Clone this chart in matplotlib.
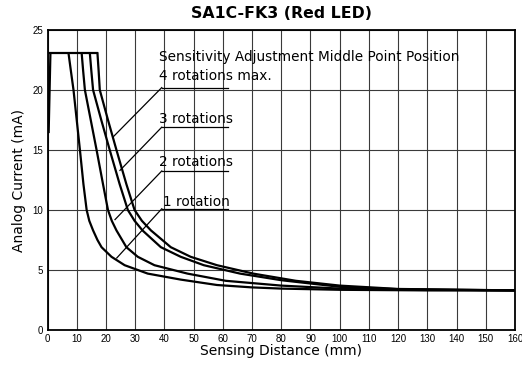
# Sensing distance vs analog current, SA1C-FK3 (Red LED)

import numpy as np
import matplotlib as mpl
mpl.use('Agg')
import matplotlib.pyplot as plt

plt.rcParams['font.family'] = ['DejaVu Sans']

# plateau (saturated output) and the short rise at the left
plateau_x = [1.0, 17.1]
plateau_y = [23.05, 23.05]
rise_x = [0.4, 1.0]
rise_y = [16.5, 23.05]

# curves, (distance mm, current mA)
rot1_x = [7.2, 8.0, 8.9, 10.0, 11.1, 12.3, 13.4, 14.3, 15.6, 17.1, 18.5, 21.9, 26.4, 34.3, 45.6, 58.0, 70.0, 80.0, 100.0, 130.0, 160.0]
rot1_y = [23.05, 21.6, 20.0, 17.5, 15.0, 12.15, 10.0, 9.1, 8.3, 7.5, 6.9, 6.1, 5.4, 4.7, 4.2, 3.75, 3.55, 3.45, 3.35, 3.3, 3.3]

rot2_x = [11.7, 12.2, 12.8, 14.8, 16.8, 19.0, 20.7, 22.0, 23.6, 27.0, 30.9, 36.6, 47.9, 61.0, 80.0, 100.0, 120.0, 160.0]
rot2_y = [23.05, 21.6, 20.0, 17.5, 15.0, 12.15, 10.0, 9.1, 8.3, 6.9, 6.1, 5.4, 4.7, 4.1, 3.7, 3.45, 3.35, 3.3]

rot3_x = [14.5, 15.0, 15.6, 18.4, 21.3, 24.7, 27.5, 29.8, 32.5, 38.8, 45.6, 53.5, 65.9, 80.0, 100.0, 120.0, 160.0]
rot3_y = [23.05, 21.6, 20.0, 17.5, 15.0, 12.15, 10.0, 9.1, 8.3, 6.9, 6.1, 5.4, 4.7, 4.15, 3.6, 3.4, 3.3]

rot4_x = [17.1, 17.5, 17.9, 20.7, 23.6, 27.0, 29.8, 32.3, 35.4, 42.2, 49.0, 58.0, 70.4, 85.0, 100.0, 120.0, 160.0]
rot4_y = [23.05, 21.6, 20.0, 17.5, 15.0, 12.15, 10.0, 9.1, 8.3, 6.9, 6.1, 5.4, 4.7, 4.1, 3.7, 3.42, 3.3]

# labels: text, text y, underline y, leader end (x, y)
labels = ["4 rotations max.", "3 rotations", "2 rotations", "1 rotation"]
label_y = [21.2, 17.6, 14.0, 10.7]
line_y = [20.2, 16.9, 13.25, 10.1]
lead_x = [22.5, 24.8, 23.1, 23.7]
lead_y = [16.1, 13.3, 9.2, 6.0]

xticks = np.arange(0, 170, 10)
yticks = np.arange(0, 30, 5)

fig = plt.figure(figsize=(5.22, 3.71), dpi=100)
ax = fig.add_axes([47.5/522, 1-330/371, (515-47.5)/522, 300/371])

ax.set_xlim(0, 160)
ax.set_ylim(0, 25)
ax.set_xticks(xticks)
ax.set_yticks(yticks)
ax.set_xticklabels([str(v) for v in xticks], fontsize=7, family='Liberation Sans')
ax.set_yticklabels([str(v) for v in yticks], fontsize=7, family='Liberation Sans')
ax.tick_params(length=0, pad=3)
ax.grid(True, color='#3a3a3a', linewidth=0.8)
for s in ax.spines.values():
    s.set_linewidth(1.3)

lw = 1.6
ax.plot(plateau_x, plateau_y, color='black', lw=lw)
ax.plot(rise_x, rise_y, color='black', lw=lw)
for xs, ys in [(rot1_x, rot1_y), (rot2_x, rot2_y), (rot3_x, rot3_y), (rot4_x, rot4_y)]:
    ax.plot(xs, ys, color='black', lw=lw, solid_joinstyle='round')

ax.text(38.3, 22.75, "Sensitivity Adjustment Middle Point Position", fontsize=9.8,
        va='center', ha='left')
for i in range(len(labels)):
    tx = 39.6 if i == 3 else 38.2
    ax.text(tx, label_y[i], labels[i], fontsize=9.8, va='center', ha='left')
    ax.plot([39.1, 61.9], [line_y[i], line_y[i]], color='black', lw=0.9)
    ax.plot([39.1, lead_x[i]], [line_y[i], lead_y[i]], color='black', lw=0.9)

ax.set_title("SA1C-FK3 (Red LED)", fontsize=11.3, fontweight='bold', pad=9)
ax.set_xlabel("Sensing Distance (mm)", fontsize=10, labelpad=0)
ax.set_ylabel("Analog Current (mA)", fontsize=10, labelpad=5)

fig.savefig('out.png', dpi=100)
